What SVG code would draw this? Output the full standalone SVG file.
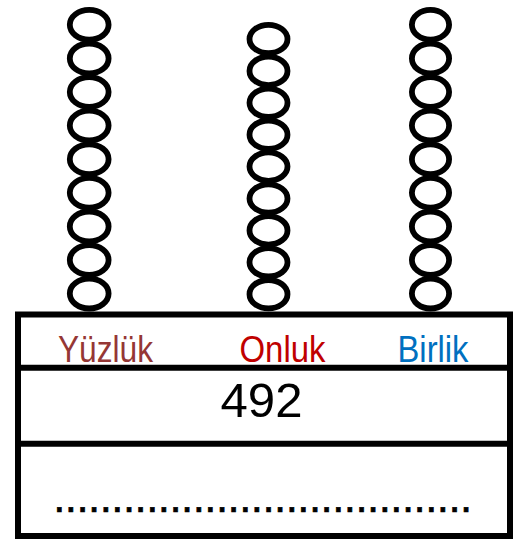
<svg xmlns="http://www.w3.org/2000/svg" width="517" height="539" viewBox="0 0 517 539">
<style>
.bead{fill:none;stroke:#000;stroke-width:5.8}
.ln{fill:none;stroke:#000;stroke-width:6}
.lbl{font-family:"Liberation Sans",Arial,sans-serif;font-size:36px}
.num{font-family:"Liberation Sans",Arial,sans-serif;font-size:47.5px;fill:#000}
.dots{font-family:"Liberation Sans",Arial,sans-serif;font-size:42px;fill:#000;stroke:#000;stroke-width:0.7}
</style>
<rect width="517" height="539" fill="#fff"/>
<g id="rod-yuzluk">
<ellipse class="bead" cx="89.2" cy="24.8" rx="19.4" ry="14.9"/>
<ellipse class="bead" cx="89.2" cy="58.4" rx="19.4" ry="14.9"/>
<ellipse class="bead" cx="89.2" cy="92" rx="19.4" ry="14.9"/>
<ellipse class="bead" cx="89.2" cy="125.6" rx="19.4" ry="14.9"/>
<ellipse class="bead" cx="89.2" cy="159.2" rx="19.4" ry="14.9"/>
<ellipse class="bead" cx="89.2" cy="192.8" rx="19.4" ry="14.9"/>
<ellipse class="bead" cx="89.2" cy="226.4" rx="19.4" ry="14.9"/>
<ellipse class="bead" cx="89.2" cy="260" rx="19.4" ry="14.9"/>
<ellipse class="bead" cx="89.2" cy="293.6" rx="19.4" ry="14.9"/>
</g>
<g id="rod-onluk">
<ellipse class="bead" cx="268.5" cy="39" rx="19" ry="14.2"/>
<ellipse class="bead" cx="268.5" cy="70.9" rx="19" ry="14.2"/>
<ellipse class="bead" cx="268.5" cy="102.8" rx="19" ry="14.2"/>
<ellipse class="bead" cx="268.5" cy="134.7" rx="19" ry="14.2"/>
<ellipse class="bead" cx="268.5" cy="166.6" rx="19" ry="14.2"/>
<ellipse class="bead" cx="268.5" cy="198.5" rx="19" ry="14.2"/>
<ellipse class="bead" cx="268.5" cy="230.4" rx="19" ry="14.2"/>
<ellipse class="bead" cx="268.5" cy="262.3" rx="19" ry="14.2"/>
<ellipse class="bead" cx="268.5" cy="294.2" rx="19" ry="14.2"/>
</g>
<g id="rod-birlik">
<ellipse class="bead" cx="430.5" cy="24.8" rx="18.6" ry="14.9"/>
<ellipse class="bead" cx="430.5" cy="58.4" rx="18.6" ry="14.9"/>
<ellipse class="bead" cx="430.5" cy="92" rx="18.6" ry="14.9"/>
<ellipse class="bead" cx="430.5" cy="125.6" rx="18.6" ry="14.9"/>
<ellipse class="bead" cx="430.5" cy="159.2" rx="18.6" ry="14.9"/>
<ellipse class="bead" cx="430.5" cy="192.8" rx="18.6" ry="14.9"/>
<ellipse class="bead" cx="430.5" cy="226.4" rx="18.6" ry="14.9"/>
<ellipse class="bead" cx="430.5" cy="260" rx="18.6" ry="14.9"/>
<ellipse class="bead" cx="430.5" cy="293.6" rx="18.6" ry="14.9"/>
</g>
<g id="table">
<rect class="ln" x="18" y="314.5" width="492" height="221.5" fill="#fff"/>
<line class="ln" x1="18" y1="367.8" x2="510" y2="367.8"/>
<line class="ln" x1="18" y1="443.7" x2="510" y2="443.7"/>
</g>
<g id="labels">
<text class="lbl" x="58" y="362" fill="#953735" textLength="95" lengthAdjust="spacingAndGlyphs">Yüzlük</text>
<text class="lbl" x="239.5" y="362" fill="#C00000" textLength="86" lengthAdjust="spacingAndGlyphs">Onluk</text>
<text class="lbl" x="397.5" y="362" fill="#0070C0" textLength="71" lengthAdjust="spacingAndGlyphs">Birlik</text>
</g>
<g id="value">
<text class="num" x="220.5" y="417" textLength="82" lengthAdjust="spacingAndGlyphs">492</text>
</g>
<g id="answer">
<text class="dots" x="53.5" y="511.5" textLength="418.5">....................................</text>
</g>
</svg>
